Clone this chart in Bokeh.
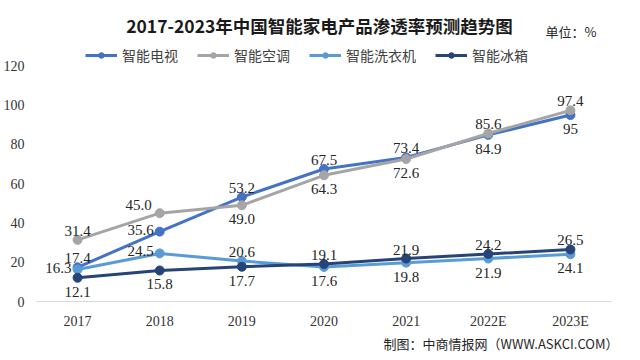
from bokeh.plotting import figure
from bokeh.models import (FactorRange, FixedTicker, Legend, LegendItem, Label,
                          ColumnDataSource, Title, Range1d)
from bokeh.embed import file_html
from bokeh.resources import INLINE
from bokeh.core.properties import value

# ---------------- data ----------------
years = ["2017", "2018", "2019", "2020", "2021", "2022E", "2023E"]
tv = [17.4, 35.6, 53.2, 67.5, 73.4, 84.9, 95]
ac = [31.4, 45.0, 49.0, 64.3, 72.6, 85.6, 97.4]
washer = [16.3, 24.5, 20.6, 17.6, 19.8, 21.9, 24.1]
fridge = [12.1, 15.8, 17.7, 19.1, 21.9, 24.2, 26.5]
series_names = ["智能电视", "智能空调", "智能洗衣机", "智能冰箱"]
y_ticks = [0, 20, 40, 60, 80, 100, 120]
y_max = 120

# label placement (style)
tv_pos = ["above", "left", "above", "above", "above", "below", "below"]
ac_pos = ["above", "aboveleft", "below", "below", "below", "above", "above"]
washer_pos = ["left", "left", "above", "below", "below", "below", "below"]
fridge_pos = ["below", "below", "below", "above", "above", "above", "above"]

colors = ["#4472C4", "#A5A5A5", "#5B9BD5", "#264478"]

W, H = 624, 352
FL, FR, FB = 31, 13, 44
axis_top_px = 67            # pixel row of the 120 tick
frame_h = H - FB            # frame runs from the top of the figure
px_per_unit = (frame_h - axis_top_px) / y_max
y_end = y_max + axis_top_px / px_per_unit

p = figure(x_range=FactorRange(*years), y_range=Range1d(0, y_end), width=W, height=H,
           output_backend="svg", toolbar_location=None,
           min_border_left=FL, min_border_right=FR, min_border_top=0,
           min_border_bottom=FB)
p.title = None
p.outline_line_color = None
p.xgrid.grid_line_color = None
p.ygrid.grid_line_color = None
p.background_fill_color = "white"
p.border_fill_color = "white"

p.yaxis.ticker = FixedTicker(ticks=y_ticks)
p.yaxis.axis_line_color = None
p.yaxis.major_tick_line_color = None
p.yaxis.minor_tick_line_color = None
p.yaxis.major_label_text_font = "Liberation Serif"
p.yaxis.major_label_text_font_size = "14px"
p.yaxis.major_label_text_color = "#333333"
p.yaxis.major_label_standoff = 6

p.xaxis.axis_line_color = "#D9D9D9"
p.xaxis.axis_line_width = 1
p.xaxis.major_tick_line_color = None
p.xaxis.minor_tick_line_color = None
p.xaxis.major_label_text_font = "Liberation Serif"
p.xaxis.major_label_text_font_size = "14px"
p.xaxis.major_label_text_color = "#333333"
p.xaxis.major_label_standoff = 6

offsets = {
    "above": (0, -4, "center", "bottom"),
    "below": (0, 9, "center", "top"),
    "left": (-6, -2, "right", "middle"),
    "aboveleft": (-8, -8, "right", "middle"),
}

items = []
for name, vals, pos, col in zip(series_names, [tv, ac, washer, fridge],
                                [tv_pos, ac_pos, washer_pos, fridge_pos], colors):
    src = ColumnDataSource(dict(
        x=years, y=vals, t=[str(v) for v in vals],
        dx=[offsets[k][0] for k in pos], dy=[offsets[k][1] for k in pos],
        al=[offsets[k][2] for k in pos], bl=[offsets[k][3] for k in pos]))
    ln = p.line("x", "y", source=src, line_color=col, line_width=3)
    sc = p.scatter("x", "y", source=src, size=9, fill_color=col, line_color=col)
    items.append(LegendItem(label=name, renderers=[ln, sc]))
    p.text("x", "y", text="t", source=src, x_offset="dx", y_offset="dy",
           text_align="al", text_baseline="bl", text_font=value("Liberation Serif"),
           text_font_size="15px", text_color="#262626")

legend = Legend(items=items, orientation="horizontal",
                location=(49, frame_h - 72),
                label_text_font="Noto Sans CJK SC", label_text_font_size="14px",
                label_text_color="#404040", glyph_width=32, glyph_height=14,
                label_standoff=5, spacing=19, padding=0, margin=0,
                border_line_color=None, background_fill_alpha=0)
p.add_layout(legend)

title = Label(x=283, y=frame_h - 32, x_units="screen", y_units="screen",
              text="2017-2023年中国智能家电产品渗透率预测趋势图",
              text_font="Noto Sans CJK SC", text_font_style="bold",
              text_font_size="17.5px", text_align="center", text_baseline="middle",
              text_color="#1a1a1a")
p.add_layout(title)

unit = Label(x=509, y=frame_h - 38, x_units="screen", y_units="screen",
             text="单位：%", text_font="Noto Sans CJK SC", text_font_size="13px",
             text_align="left", text_baseline="middle", text_color="#262626")
p.add_layout(unit)

source = Title(text="制图：中商情报网（WWW.ASKCI.COM）", text_font="Noto Sans CJK SC",
               text_font_size="13px", text_font_style="normal", align="right",
               offset=-7, standoff=0, text_color="#262626")
p.add_layout(source, "below")

open("out.html", "w").write(file_html(p, INLINE))
